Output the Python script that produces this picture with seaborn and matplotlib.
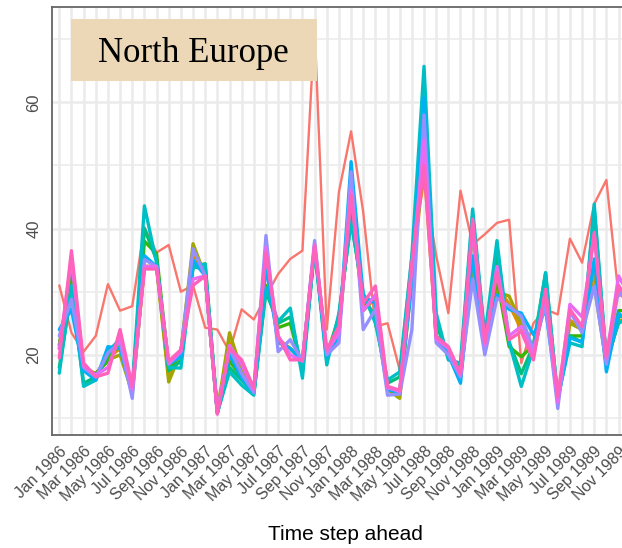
import matplotlib
matplotlib.use("Agg")
import matplotlib.pyplot as plt
import numpy as np
import pandas as pd
import seaborn as sns
from matplotlib.patches import Rectangle
from matplotlib.ticker import FixedLocator

# Monthly time axis, Jan 1986 - Dec 1989
months = pd.date_range("1986-01-01", periods=48, freq="MS")
month_labels = [d.strftime("%b %Y") for d in months]

# Observed series
observed = [31, 23.5, 20.5, 23, 31.2, 27, 27.7, 40.2, 36.2, 37.4, 30, 31,
            24.3, 24, 20.5, 27.2, 25.6, 29.3, 32.8, 35.2, 36.5, 72, 24, 45.8,
            55.4, 42.6, 24.5, 25, 17.6, 36.2, 47.4, 35.7, 26.6, 46, 37.5, 39.1,
            40.9, 41.4, 18.7, 25, 27.2, 26.4, 38.4, 34.6, 43.9, 47.7, 29.3, 30]

# Forecasts, one series per model run
run_1 = [21.5, 32, 18, 17, 19.5, 21, 14, 34, 34, 16.5, 20.5, 36,
         32.5, 11, 22, 17.5, 14, 35, 22.5, 21, 19, 37, 20, 24,
         45, 27.5, 29, 14.5, 13.5, 32, 50, 23, 20, 16.5, 35, 21.5,
         31, 28, 24, 20, 29, 12.5, 25.5, 24, 33, 18.5, 26, 26.5]
run_2 = [21, 33, 18, 17, 19.2, 20, 14, 34, 34, 15.7, 20.5, 37.6,
         32.5, 11, 23.5, 17.5, 14, 35, 22, 21, 19, 37, 20, 24,
         44, 27, 29, 14.5, 13.1, 32, 52, 23, 20, 16.5, 33, 21.5,
         30, 29.3, 25, 20, 29, 12.5, 25, 24, 31, 18.5, 25.3, 26]
run_3 = [21.6, 33, 17.5, 17, 19, 22, 14.5, 38, 36, 18, 20, 34,
         34.4, 10.8, 19, 16.5, 14, 31, 24.3, 25, 17.6, 37, 20, 26,
         42, 29, 26, 14.5, 14, 33, 55, 23, 20, 16.5, 40, 21.5,
         32, 21.3, 19.7, 21.5, 31, 13, 23, 23, 40.5, 19, 27, 27]
run_4 = [18, 30, 15.5, 16.5, 20, 22.5, 14.5, 40, 35, 17.5, 19, 34,
         33.5, 10.8, 18, 16, 14, 30, 25, 26, 17.5, 37, 19, 26,
         41.5, 29, 26, 15.5, 16.5, 34, 60, 25, 19.5, 18, 42, 22.5,
         36, 22, 17, 21.5, 33, 13, 23, 22, 43, 19, 26, 26.5]
run_5 = [17.1, 31, 15, 16, 20.5, 22.5, 14.5, 43.6, 34.6, 18, 17.9, 33.8,
         34.4, 10.8, 17.3, 15.2, 13.6, 30.6, 25.3, 27.4, 16.3, 37, 18.4, 26.6,
         41, 29.8, 25, 16, 17.3, 35.7, 65.7, 26.6, 19.2, 18.7, 43.1, 22.9,
         38.1, 22, 15, 21, 33, 13, 21.9, 21.3, 43.9, 19, 25, 26]
run_6 = [24, 27.2, 17.5, 16, 21.3, 21, 14, 35.7, 34, 18.5, 19.7, 35,
         32.5, 11, 20, 16.3, 14, 34, 22, 21, 19, 37, 19.7, 23,
         50.6, 29.3, 28.2, 14.5, 14, 31.4, 60.7, 23, 20, 15.5, 35.7, 21.5,
         29.5, 27.2, 26.6, 23.2, 27.2, 13, 22.7, 22, 35.2, 17.3, 26.6, 25]
run_7 = [23, 28.8, 18, 16.5, 20.3, 22, 13.1, 35.1, 34, 18.5, 20.5, 36.8,
         32.5, 11, 21, 17, 14, 38.9, 20.5, 22.4, 19, 38.1, 20, 21.9,
         49, 24, 27.2, 13.6, 13.8, 24, 58, 21.9, 20, 16.5, 32, 20,
         29, 27.7, 26.1, 20.8, 28, 11.5, 26.9, 23.5, 30.9, 18.5, 30.4, 27]
run_8 = [21, 35, 18.2, 16.8, 18, 23, 14.5, 34, 34, 18.7, 20.5, 32,
         32.5, 10.8, 21.5, 18.5, 14.5, 37, 23, 20, 19, 37.5, 20.5, 23.5,
         46, 27, 29.5, 14.8, 14.2, 33.5, 54, 22.5, 21, 16.8, 40, 21.5,
         34, 23, 24.5, 20, 30, 12.5, 28, 26, 39, 19.5, 32.5, 29]
run_9 = [19.5, 36.5, 18.7, 16.5, 17.1, 24, 15, 33.6, 33.6, 19, 20.8, 31,
         32.5, 10.6, 21, 19.2, 14.7, 36.2, 22.9, 19.2, 19.2, 37.3, 20.8, 24.5,
         45.3, 28.2, 30.9, 15, 14.4, 34.6, 50, 22.9, 21.3, 17, 41.5, 21.9,
         33, 22.4, 23.7, 19.2, 30.4, 13.4, 27.2, 24.5, 39.4, 19.7, 31, 28]

forecast_runs = [run_1, run_2, run_3, run_4, run_5, run_6, run_7, run_8, run_9]
run_names = [f"run {k}" for k in range(1, 10)]
run_colors = ["#D89000", "#A3A500", "#39B600", "#00BF7D", "#00BFC4",
              "#00B0F6", "#9590FF", "#E76BF3", "#FF62BC"]
observed_color = "#F8766D"

y_breaks = [20, 40, 60]
title_text = "North Europe"

# Long-format tables for seaborn
steps = np.arange(len(months))
obs_df = pd.DataFrame({"step": steps, "value": observed})
fc_df = pd.concat(
    [pd.DataFrame({"step": steps, "value": vals, "series": name})
     for name, vals in zip(run_names, forecast_runs)],
    ignore_index=True,
)

sns.set_style("white")
plt.rcParams["font.family"] = ["Liberation Sans", "DejaVu Sans"]

W, H = 622, 548
fig = plt.figure(figsize=(W / 100, H / 100), dpi=100)
ax = fig.add_axes([52 / W, 1 - 435 / H, (638 - 52) / W, (435 - 7) / H])

sns.lineplot(data=obs_df, x="step", y="value", color=observed_color,
             linewidth=1.7, errorbar=None, ax=ax, zorder=3)
sns.lineplot(data=fc_df, x="step", y="value", hue="series",
             hue_order=run_names, palette=dict(zip(run_names, run_colors)),
             linewidth=2.4, errorbar=None, legend=False, ax=ax, zorder=3)

ax.set_xlim(-0.6, len(months) - 1 + 0.6)
ax.set_ylim(7.3, 75.1)

# Axis ticks: one per month, label on every other month
ax.xaxis.set_major_locator(FixedLocator(steps))
ax.set_xticklabels([lab if k % 2 == 0 else "" for k, lab in enumerate(month_labels)],
                   rotation=45, ha="right", rotation_mode="anchor",
                   fontsize=11.5, color="#4d4d4d")
ax.yaxis.set_major_locator(FixedLocator(y_breaks))
ax.yaxis.set_minor_locator(FixedLocator([10, 30, 50, 70]))
ax.set_yticklabels([str(v) for v in y_breaks], rotation=90, va="center",
                   fontsize=12, color="#4d4d4d")
ax.tick_params(axis="both", which="major", length=4.5, width=1.4,
               color="black", direction="out")
ax.tick_params(axis="x", which="major", pad=2)
ax.tick_params(axis="y", which="major", pad=3)
ax.tick_params(axis="y", which="minor", length=0)

ax.grid(True, axis="x", which="major", color="#EBEBEB", linewidth=1.8, zorder=0)
ax.grid(True, axis="y", which="major", color="#EBEBEB", linewidth=1.8, zorder=0)
ax.grid(True, axis="y", which="minor", color="#EBEBEB", linewidth=1.1, zorder=0)
ax.set_axisbelow(True)

for side in ["left", "right", "top", "bottom"]:
    ax.spines[side].set_visible(True)
    ax.spines[side].set_color("#666666")
    ax.spines[side].set_linewidth(1.3)

ax.set_ylabel("")
ax.set_xlabel("Time step ahead", fontsize=15, color="black")
ax.xaxis.set_label_coords(0.5, -(535 - 435) / (435 - 7))
ax.xaxis.label.set_va("center")

# Region title box
ax.add_patch(Rectangle((71 / W, 1 - 81 / H), (317 - 71) / W, (81 - 19) / H,
                       transform=fig.transFigure, facecolor="#ECD8B6",
                       edgecolor="none", zorder=10, clip_on=False))
ax.text(193 / W, 1 - 62 / H, title_text, transform=fig.transFigure,
        ha="center", va="baseline", fontsize=25, family="Liberation Serif",
        color="black", zorder=11)

fig.savefig("out.png", dpi=100)
